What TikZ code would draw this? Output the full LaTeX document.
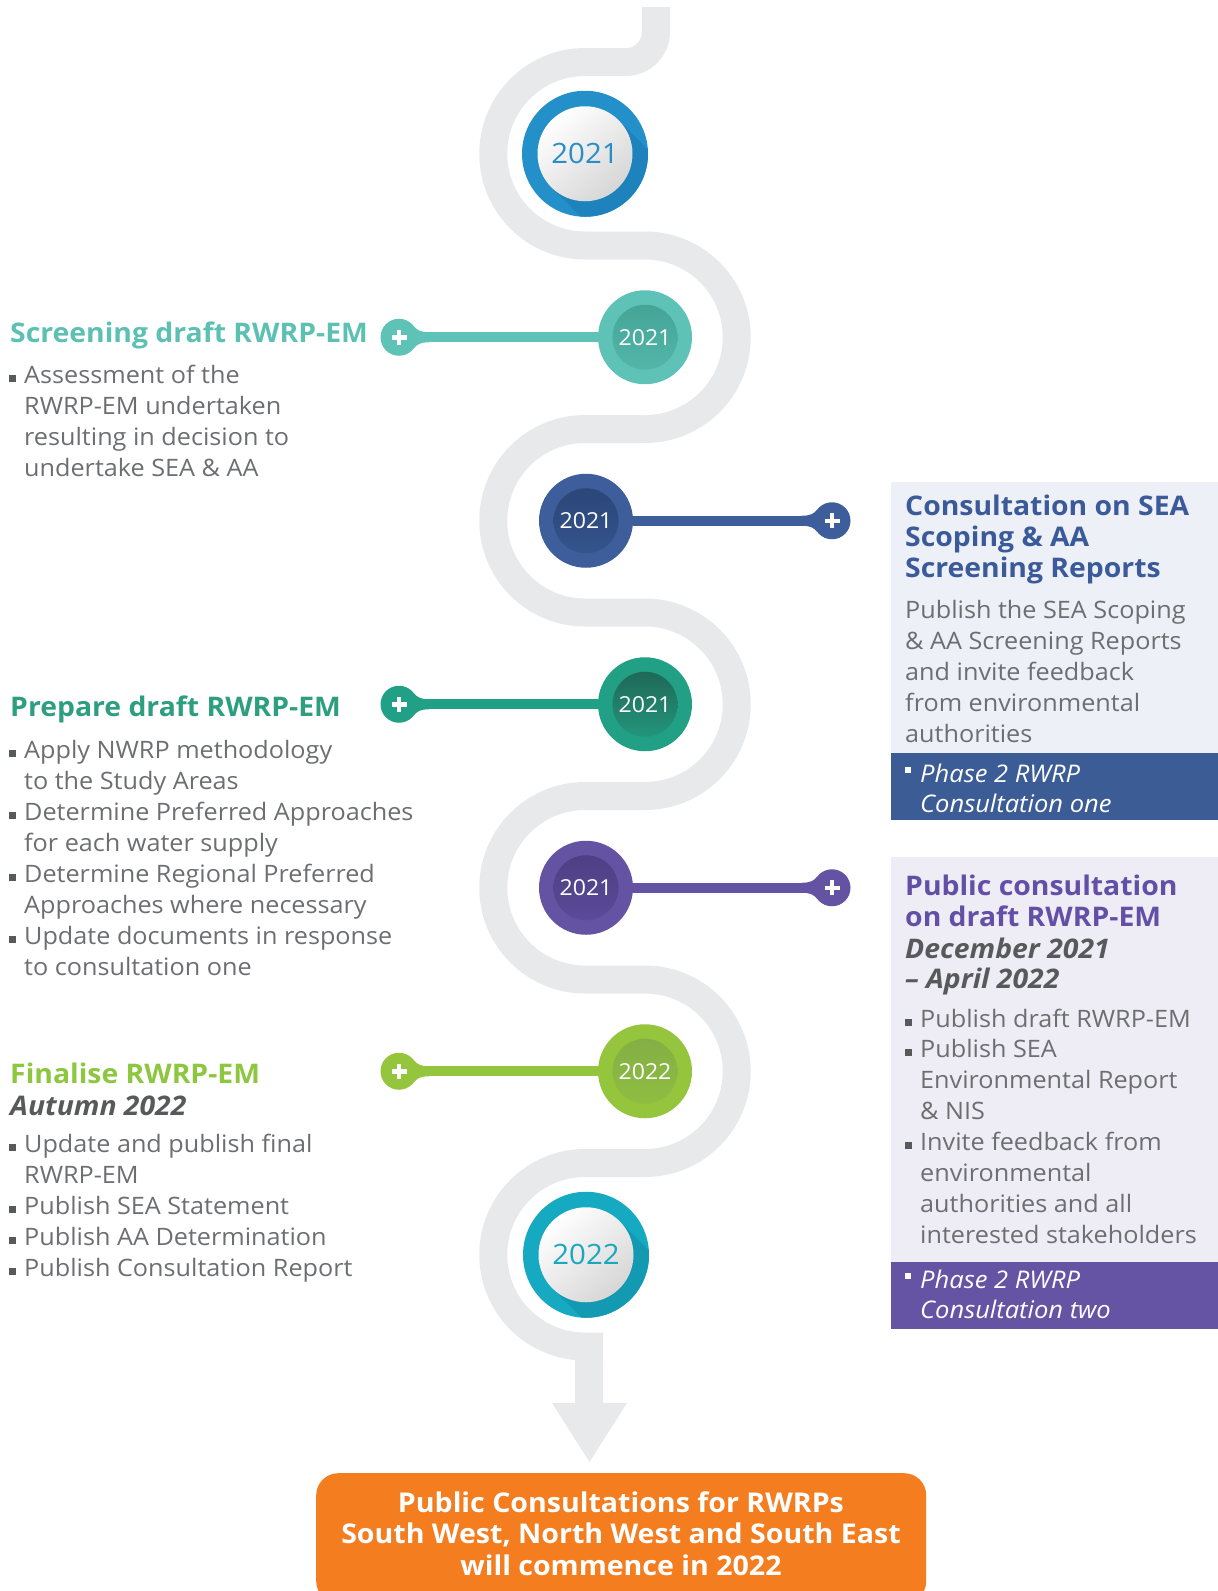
\documentclass[tikz,border=0pt]{standalone}
\usepackage{fontspec}
\setmainfont{Open Sans}[FakeStretch=1.05]
\usetikzlibrary{calc}
\definecolor{roadgray}{HTML}{E8E9EB}
\definecolor{ringblue}{HTML}{2490C9}
\definecolor{ringblueS}{HTML}{1E83BC}
\definecolor{ringblueT}{HTML}{2A8DC5}
\definecolor{ringteal}{HTML}{16A9C2}
\definecolor{ringtealS}{HTML}{1399B1}
\definecolor{ringtealT}{HTML}{1AA7BF}
\definecolor{tealO}{HTML}{5EC2B6}
\definecolor{tealIa}{HTML}{44A597}
\definecolor{tealIb}{HTML}{52B6A9}
\definecolor{tealT}{HTML}{5CC0B2}
\definecolor{navyO}{HTML}{3E5E9B}
\definecolor{navyIa}{HTML}{2B4678}
\definecolor{navyIb}{HTML}{34548D}
\definecolor{navyT}{HTML}{3B5A99}
\definecolor{greenO}{HTML}{21A085}
\definecolor{greenIa}{HTML}{1F6858}
\definecolor{greenIb}{HTML}{23957C}
\definecolor{greenT}{HTML}{2E9E80}
\definecolor{purpleO}{HTML}{6453A3}
\definecolor{purpleIa}{HTML}{4E3F85}
\definecolor{purpleIb}{HTML}{5A4A98}
\definecolor{purpleT}{HTML}{6350A6}
\definecolor{limeO}{HTML}{95C43D}
\definecolor{limeIa}{HTML}{84AF45}
\definecolor{limeIb}{HTML}{8EBD41}
\definecolor{limeT}{HTML}{8DC63F}
\definecolor{txtgray}{HTML}{6D6E71}
\definecolor{bulgray}{HTML}{58595B}
\definecolor{dkgray}{HTML}{58595B}
\definecolor{boxAbg}{HTML}{EDF0F7}
\definecolor{bandA}{HTML}{3C5C96}
\definecolor{boxBbg}{HTML}{EEEDF5}
\definecolor{bandB}{HTML}{6553A3}
\definecolor{orangeF}{HTML}{F47D20}
\newcommand\lblock[1]{\vtop{\halign{##\hfil\cr#1\crcr}}}
\newcommand\cblock[1]{\vtop{\halign{\hfil##\hfil\cr#1\crcr}}}
\newcommand\bul{\makebox[15pt][l]{\textcolor{bulgray}{\rule[1.5pt]{7pt}{7pt}}}}
\newcommand\wbul{\makebox[15pt][l]{\textcolor{white}{\rule[9pt]{6pt}{6pt}}}}
\newcommand\ind{\hskip15pt}
\newcommand\plussign{\textcolor{white}{\makebox[0pt]{\rule[-2.25pt]{15pt}{4.5pt}}\makebox[0pt]{\rule[-7.5pt]{4.5pt}{15pt}}}}
\newcommand\fillet[3]{%
  \fill[#3] ($(#1)+({#2*(-30)},5)$) .. controls ($(#1)+({#2*(-21)},5)$) and ($(#1)+({#2*(-18)},7.5)$) .. ($(#1)+({#2*(-15)},10.8)$)
  -- ($(#1)+({#2*(-15)},-10.8)$) .. controls ($(#1)+({#2*(-18)},-7.5)$) and ($(#1)+({#2*(-21)},-5)$) .. ($(#1)+({#2*(-30)},-5)$) -- cycle;}
\begin{document}
\begin{tikzpicture}[x=1pt,y=1pt,
  road/.style={draw=roadgray, line width=28pt},
  conn/.style={line width=10pt},
  ring/.style={circle, minimum size=126pt, inner sep=0pt},
  ringin/.style={circle, minimum size=95pt, inner sep=0pt, top color=white, bottom color=black!16, shading angle=40, font=\fontsize{28}{28}\selectfont},
  yout/.style={circle, minimum size=94pt, inner sep=0pt},
  yin/.style={circle, minimum size=65pt, inner sep=0pt, text=white, shading angle=35, font=\fontsize{22}{22}\selectfont},
  plusnode/.style={circle, minimum size=37pt, inner sep=0pt},
  ttl/.style={anchor=base west, inner sep=0pt, font=\fontsize{27}{31}\selectfont\bfseries},
  btitle/.style={anchor=base west, inner sep=0pt, font=\fontsize{27}{31}\selectfont\bfseries},
  sub/.style={anchor=base west, inner sep=0pt, text=dkgray, font=\fontsize{27}{30.5}\selectfont\bfseries\itshape},
  body/.style={anchor=base west, inner sep=0pt, text=txtgray, font=\fontsize{24}{31}\selectfont},
  bodyB/.style={body, font=\fontsize{24}{30.9}\selectfont},
  band/.style={anchor=base west, inner sep=0pt, text=white, font=\fontsize{24.3}{30.5}\selectfont\itshape},
  boxbg/.style={anchor=north west, inner sep=0pt, minimum width=330pt},
  otext/.style={anchor=base, inner sep=0pt, text=white, font=\fontsize{27.2}{31.5}\selectfont\bfseries}
]
\useasboundingbox (0,0) rectangle (1218,-1591);

% winding road
\draw[road] (656,-7) -- (656,-32) arc[start angle=0,end angle=-90,radius=30]
  -- (585,-62) arc[start angle=90,end angle=270,radius=91.75]
  -- (645,-245.5) arc[start angle=90,end angle=-90,radius=91.75]
  -- (585,-429) arc[start angle=90,end angle=270,radius=91.75]
  -- (645,-612.5) arc[start angle=90,end angle=-90,radius=91.75]
  -- (585,-796) arc[start angle=90,end angle=270,radius=91.75]
  -- (645,-979.5) arc[start angle=90,end angle=-90,radius=91.75]
  -- (585,-1163) arc[start angle=90,end angle=270,radius=91.75]
  -- (603,-1346.5);
\fill[roadgray] (575,-1340) rectangle (603,-1404);
\fill[roadgray] (552,-1403) -- (627,-1403) -- (589.5,-1462) -- cycle;

% orange final box
\node[fill=orangeF, rounded corners=22pt, minimum width=610pt, minimum height=130pt, anchor=north west, inner sep=0pt] (ob) at (316,-1473) {};
\node[otext] (obT) at (621,-1512) {\cblock{Public Consultations for RWRPs\cr South West, North West and South East\cr will commence in 2022}};

% right boxes
\node[boxbg, fill=boxAbg, minimum height=271pt] (bA) at (891,-482) {};
\node[boxbg, fill=bandA, minimum height=67pt] (bAband) at (891,-753) {};
\node[boxbg, fill=boxBbg, minimum height=405pt] (bB) at (891,-857) {};
\node[boxbg, fill=bandB, minimum height=67pt] (bBband) at (891,-1262) {};

% top ring
\node[ring, fill=ringblue] (yr1) at (585,-153.75) {};
\begin{scope}
\clip (yr1.center) circle[radius=63];
\fill[ringblueS] ($(yr1.center)+(45:47.5)$) -- ++(-45:80) -- ++(-135:95) -- ++(135:80) -- cycle;
\end{scope}
\node[ringin, text=ringblueT] (yr1i) at (yr1.center) {2021};

% bottom ring
\node[ring, fill=ringteal] (yr7) at (586,-1254.75) {};
\begin{scope}
\clip (yr7.center) circle[radius=63];
\fill[ringtealS] ($(yr7.center)+(45:47.5)$) -- ++(-45:80) -- ++(-135:95) -- ++(135:80) -- cycle;
\end{scope}
\node[ringin, text=ringtealT] (yr7i) at (yr7.center) {2022};

% year circles and plus nodes
\node[yout, fill=tealO] (y2) at (645,-337.25) {};
\node[yin, top color=tealIa, bottom color=tealIb] (y2i) at (y2.center) {2021};
\node[plusnode, fill=tealO] (p2) at (399,-337.25) {\plussign};
\draw[conn, tealO] (y2) -- (p2);
\fillet{p2}{-1}{tealO}

\node[yout, fill=navyO] (y3) at (586,-520.75) {};
\node[yin, top color=navyIa, bottom color=navyIb] (y3i) at (y3.center) {2021};
\node[plusnode, fill=navyO] (p3) at (832,-520.75) {\plussign};
\draw[conn, navyO] (y3) -- (p3);
\fillet{p3}{1}{navyO}

\node[yout, fill=greenO] (y4) at (645,-704.25) {};
\node[yin, top color=greenIa, bottom color=greenIb] (y4i) at (y4.center) {2021};
\node[plusnode, fill=greenO] (p4) at (399,-704.25) {\plussign};
\draw[conn, greenO] (y4) -- (p4);
\fillet{p4}{-1}{greenO}

\node[yout, fill=purpleO] (y5) at (586,-887.75) {};
\node[yin, top color=purpleIa, bottom color=purpleIb] (y5i) at (y5.center) {2021};
\node[plusnode, fill=purpleO] (p5) at (832,-887.75) {\plussign};
\draw[conn, purpleO] (y5) -- (p5);
\fillet{p5}{1}{purpleO}

\node[yout, fill=limeO] (y6) at (645,-1071.25) {};
\node[yin, top color=limeIa, bottom color=limeIb] (y6i) at (y6.center) {2022};
\node[plusnode, fill=limeO] (p6) at (399,-1071.25) {\plussign};
\draw[conn, limeO] (y6) -- (p6);
\fillet{p6}{-1}{limeO}

% left texts
\node[ttl, text=tealT] (scrT) at (10,-342) {Screening draft RWRP-EM};
\node[body] (scrB) at (9,-383) {\lblock{\bul Assessment of the\cr\ind RWRP-EM undertaken\cr\ind resulting in decision to\cr\ind undertake SEA \& AA}};

\node[ttl, text=greenT] (prpT) at (10,-716) {Prepare draft RWRP-EM};
\node[body] (prpB) at (9,-758) {\lblock{\bul Apply NWRP methodology\cr\ind to the Study Areas\cr\bul Determine Preferred Approaches\cr\ind for each water supply\cr\bul Determine Regional Preferred\cr\ind Approaches where necessary\cr\bul Update documents in response\cr\ind to consultation one}};

\node[ttl, text=limeT] (finT) at (10,-1083) {Finalise RWRP-EM};
\node[sub] (finD) at (10,-1115) {Autumn 2022};
\node[body] (finB) at (9,-1152) {\lblock{\bul Update and publish final\cr\ind RWRP-EM\cr\bul Publish SEA Statement\cr\bul Publish AA Determination\cr\bul Publish Consultation Report}};

% right texts
\node[btitle, text=navyT] (bAT) at (905,-515) {\lblock{Consultation on SEA\cr Scoping \& AA\cr Screening Reports}};
\node[body] (bAB) at (905,-618) {\lblock{Publish the SEA Scoping\cr \& AA Screening Reports\cr and invite feedback\cr from environmental\cr authorities}};
\node[band] (bAN) at (905,-782) {\lblock{\wbul Phase 2 RWRP\cr\ind Consultation one}};

\node[btitle, text=purpleT] (bBT) at (905,-895) {\lblock{Public consultation\cr on draft RWRP-EM}};
\node[sub] (bBD) at (905,-958) {\lblock{December 2021\cr – April 2022}};
\node[bodyB] (bBB) at (905,-1027) {\lblock{\bul Publish draft RWRP-EM\cr\bul Publish SEA\cr\ind Environmental Report\cr\ind \& NIS\cr\bul Invite feedback from\cr\ind environmental\cr\ind authorities and all\cr\ind interested stakeholders}};
\node[band] (bBN) at (905,-1288) {\lblock{\wbul Phase 2 RWRP\cr\ind Consultation two}};
\end{tikzpicture}
\end{document}
